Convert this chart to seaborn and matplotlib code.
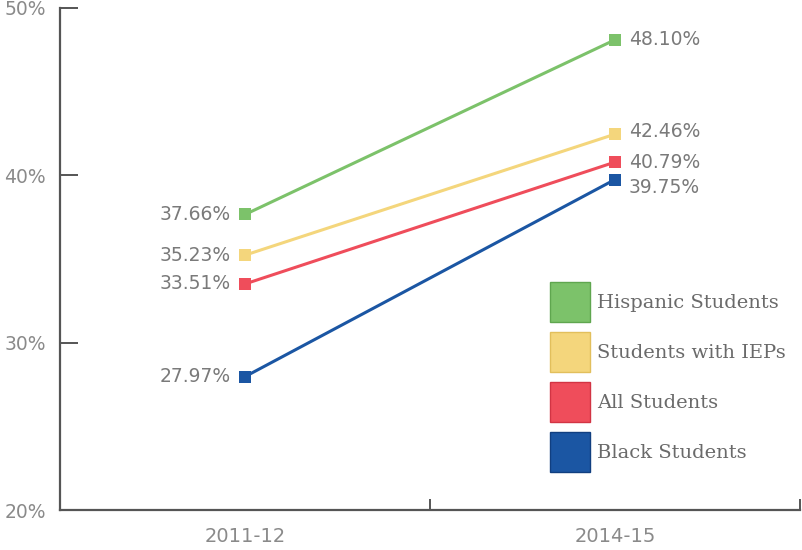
import numpy as np
import pandas as pd
import matplotlib
matplotlib.use("Agg")
import matplotlib.pyplot as plt
from matplotlib.patches import Patch
import seaborn as sns

# ---------------- data ----------------
years = ["2011-12", "2014-15"]
groups = ["Hispanic Students", "Students with IEPs", "All Students", "Black Students"]
hispanic = [37.66, 48.10]
ieps = [35.23, 42.46]
all_students = [33.51, 40.79]
black = [27.97, 39.75]

colors = ["#7cc26a", "#f4d67c", "#ef4d5b", "#1b56a3"]
edges = ["#5fa64f", "#e2bf5c", "#d23444", "#113f80"]

df = pd.DataFrame({
    "year": years * 4,
    "group": np.repeat(groups, 2),
    "value": hispanic + ieps + all_students + black,
})

# ---------------- plot ----------------
sns.set_style("white")
plt.rcParams["font.family"] = ["DejaVu Sans"]

fig = plt.figure(figsize=(8.03, 5.5), dpi=100)
ax = fig.add_axes([60 / 803, 40 / 550, 740 / 803, 502 / 550])

sns.lineplot(data=df, x="year", y="value", hue="group", hue_order=groups,
             palette=colors, marker="s", markersize=8, markeredgewidth=0,
             linewidth=2.2, legend=False, ax=ax)

ax.set_xlim(-0.5, 1.5)
ax.set_ylim(20, 50)
ax.set_xlabel("")
ax.set_ylabel("")

# spines
for s in ["top", "right"]:
    ax.spines[s].set_visible(False)
for s in ["left", "bottom"]:
    ax.spines[s].set_color("#555555")
    ax.spines[s].set_linewidth(1.6)

ax.set_yticks([20, 30, 40, 50])
ax.set_yticklabels(["20%", "30%", "40%", "50%"])
ax.tick_params(axis="y", left=True, direction="in", length=13, width=1.4,
               color="#555555", labelsize=13.5, labelcolor="#8a8a8a", pad=10)
ax.yaxis.get_major_ticks()[0].tick1line.set_visible(False)

ax.set_xticks([0, 1])
ax.set_xticks([0.5, 1.5], minor=True)
ax.tick_params(axis="x", which="major", bottom=False, labelsize=14,
               labelcolor="#8a8a8a", pad=9)
ax.tick_params(axis="x", which="minor", bottom=True, direction="in", length=8,
               width=1.4, color="#555555")

# value labels
right_dy = [0, 2, 0, -6]
series = [hispanic, ieps, all_students, black]
for vals, rd in zip(series, right_dy):
    ax.annotate(f"{vals[0]:.2f}%", (0, vals[0]), xytext=(-10, 0),
                textcoords="offset points", ha="right", va="center",
                fontsize=13.5, color="#7a7a7a")
    ax.annotate(f"{vals[1]:.2f}%", (1, vals[1]), xytext=(10, rd),
                textcoords="offset points", ha="left", va="center",
                fontsize=13.5, color="#7a7a7a")

# legend
handles = [Patch(facecolor=c, edgecolor=e, linewidth=1.0) for c, e in zip(colors, edges)]
ax.legend(handles, groups, loc="upper left", bbox_to_anchor=(0.662, 0.454),
          frameon=False, borderpad=0, borderaxespad=0,
          handlelength=2.06, handleheight=2.8,
          handletextpad=0.36, labelspacing=0.51,
          prop={"family": "DejaVu Serif", "size": 14}, labelcolor="#6a6a6a")

fig.savefig("out.png", dpi=100)
